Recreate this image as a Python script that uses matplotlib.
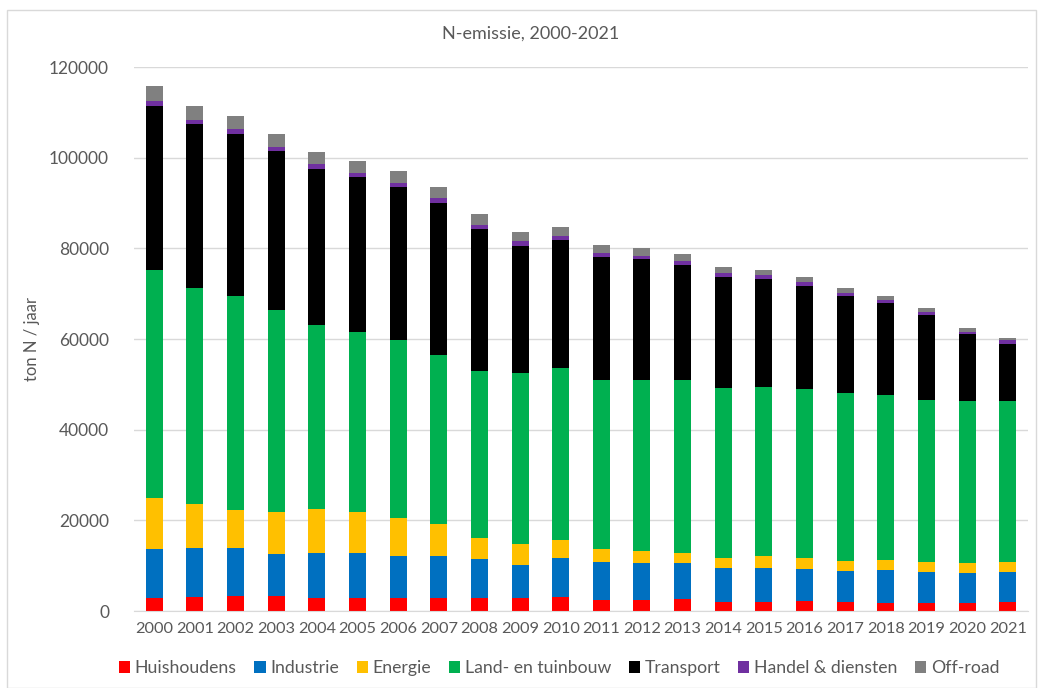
import matplotlib
matplotlib.use("Agg")
import matplotlib.pyplot as plt
import numpy as np

plt.rcParams['font.family'] = ['Lato', 'DejaVu Sans']

years = [str(y) for y in range(2000, 2022)]

huishoudens = [2900, 3100, 3300, 3300, 2900, 2900, 2800, 2800, 2800, 2800, 3000,
               2400, 2500, 2700, 1900, 1900, 2200, 1900, 1800, 1800, 1700, 2000]
industrie = [10750, 10700, 10700, 9300, 10000, 9800, 9400, 9300, 8600, 7300, 8600,
             8300, 8000, 7800, 7600, 7600, 7000, 6900, 7300, 6900, 6600, 6700]
energie = [11250, 9800, 8300, 9300, 9700, 9200, 8300, 7000, 4600, 4700, 4000,
           3000, 2800, 2400, 2300, 2700, 2500, 2200, 2200, 2200, 2200, 2200]
land_tuinbouw = [50400, 47700, 47200, 44600, 40500, 39700, 39300, 37300, 37000, 37700, 38100,
                 37200, 37600, 38000, 37300, 37200, 37200, 37000, 36400, 35700, 35800, 35400]
transport = [36200, 36200, 35800, 34900, 34300, 34100, 33700, 33700, 31300, 28100, 28100,
             27200, 26700, 25500, 24500, 23900, 22700, 21500, 20200, 18700, 14700, 12700]
handel = [1000, 800, 1000, 1000, 1100, 900, 1000, 900, 900, 1000, 1000,
          800, 800, 700, 900, 800, 900, 700, 800, 700, 600, 700]
offroad = [3400, 3100, 2900, 2800, 2800, 2600, 2600, 2600, 2400, 2100, 1900,
           1800, 1700, 1700, 1400, 1200, 1100, 1100, 800, 900, 800, 600]

series = [
    ("Huishoudens", huishoudens, "#FF0000"),
    ("Industrie", industrie, "#0070C0"),
    ("Energie", energie, "#FFC000"),
    ("Land- en tuinbouw", land_tuinbouw, "#00B050"),
    ("Transport", transport, "#000000"),
    ("Handel & diensten", handel, "#7030A0"),
    ("Off-road", offroad, "#808080"),
]

W, H = 1043, 688
fig = plt.figure(figsize=(W / 100, H / 100), dpi=100)
ax = fig.add_axes([134 / W, 1 - 611 / H, (1028 - 134) / W, (611 - 67) / H])

x = np.arange(len(years))
bottom = np.zeros(len(years))
handles = []
for name, vals, col in series:
    b = ax.bar(x, vals, width=0.42, bottom=bottom, color=col, label=name, zorder=3)
    handles.append(b)
    bottom += np.array(vals)

txt = "#595959"
ax.set_ylim(0, 120000)
ax.set_xlim(-0.5, len(years) - 0.5)
ax.set_yticks(np.arange(0, 120001, 20000))
ax.set_yticklabels([str(v) for v in range(0, 120001, 20000)], fontsize=12.5, color=txt)
ax.set_xticks(x)
ax.set_xticklabels(years, fontsize=11.8, color=txt)
ax.tick_params(axis='both', length=0)
ax.tick_params(axis='y', pad=18)
ax.tick_params(axis='x', pad=8)
ax.grid(axis='y', color="#D9D9D9", linewidth=1, zorder=0)
for s in ['top', 'right', 'left']:
    ax.spines[s].set_visible(False)
ax.spines['bottom'].set_color("#D9D9D9")
ax.spines['bottom'].set_zorder(4)

ax.set_ylabel("ton N / jaar", fontsize=12, color=txt)
ax.yaxis.set_label_coords((40 - 134) / (1028 - 134), 0.5)

fig.text(531 / W, 1 - 34 / H, "N-emissie, 2000-2021", ha='center', va='center',
         fontsize=13, color=txt)

leg = fig.legend(handles=handles, loc='center', bbox_to_anchor=(559 / W, 1 - 668 / H),
                 ncol=7, frameon=False, fontsize=12.7, handlelength=0.65, handleheight=0.65,
                 handletextpad=0.25, columnspacing=1.0, labelcolor=txt)

fig.add_artist(plt.Rectangle((7 / W, 0), (1036 - 7) / W, 1 - 10 / H, transform=fig.transFigure,
                             fill=False, edgecolor="#D9D9D9", linewidth=1))

fig.savefig("out.png", dpi=100)
